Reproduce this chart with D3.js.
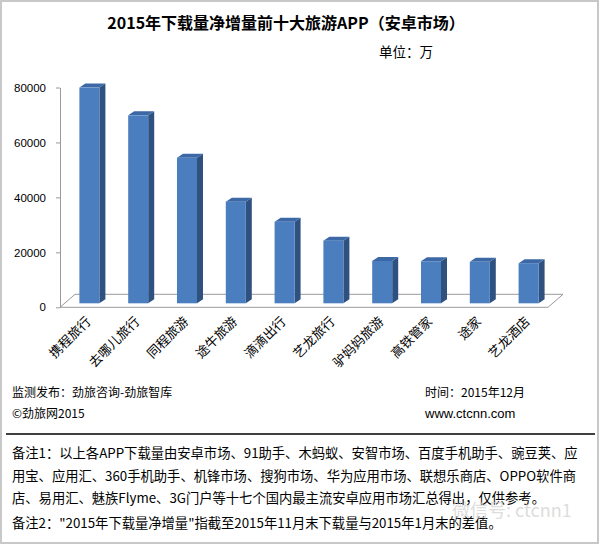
<!DOCTYPE html>
<html><head><meta charset="utf-8">
<script src="https://cdn.jsdelivr.net/npm/d3@7"></script>
<style>
html,body{margin:0;padding:0;background:#fff;}
svg{display:block;}
</style></head>
<body>
<svg id="c" width="600" height="545"></svg>
<script>
const title = "2015年下载量净增量前十大旅游APP（安卓市场）";
const unitLabel = "单位：万";
const categories = ["携程旅行","去哪儿旅行","同程旅游","途牛旅游","滴滴出行","艺龙旅行","驴妈妈旅游","高铁管家","途家","艺龙酒店"];
const values = [78500, 68400, 53000, 37000, 29700, 22800, 15400, 15300, 15100, 14600];
const yTicks = [0, 20000, 40000, 60000, 80000];
const footerLeft = ["监测发布：劲旅咨询-劲旅智库", "©劲旅网2015"];
const footerRight = ["时间：2015年12月", "www.ctcnn.com"];
const notes = [
  "备注1：以上各APP下载量由安卓市场、91助手、木蚂蚁、安智市场、百度手机助手、豌豆荚、应",
  "用宝、应用汇、360手机助手、机锋市场、搜狗市场、华为应用市场、联想乐商店、OPPO软件商",
  "店、易用汇、魅族Flyme、3G门户等十七个国内最主流安卓应用市场汇总得出，仅供参考。",
  "备注2：\"2015年下载量净增量\"指截至2015年11月末下载量与2015年1月末的差值。"
];
const watermark = "微信号: ctcnn1";

const CJK = "'Noto Sans CJK SC','Microsoft YaHei',sans-serif";
const NUM = "'Liberation Sans',Arial,sans-serif";

const svg = d3.select("#c");

// frame
svg.append("rect").attr("x",1).attr("y",1).attr("width",597).attr("height",542)
  .attr("fill","#fff").attr("stroke","#c8c8c8").attr("stroke-width",2);

// title
svg.append("text").attr("x",286).attr("y",29).attr("text-anchor","middle")
  .attr("font-family",CJK).attr("font-weight","bold").attr("font-size",16)
  .attr("fill","#000").text(title);
svg.append("text").attr("x",379).attr("y",57)
  .attr("font-family",CJK).attr("font-size",13.5).attr("fill","#000").text(unitLabel);

// scales
const x = d3.scaleBand().domain(categories).range([60,548]).padding(0);
const y = d3.scaleLinear().domain([0,80000]).range([307.3,87.5]);
const depth = {dx:15, dy:-13};
const barShift = {dx:5, dy:-4};
const side = {dx:6, dy:-4};
const bw = 20;

// floor
const x0 = x.range()[0], x1 = x.range()[1], y0 = y(0);
svg.append("polygon")
  .attr("points", [[x0,y0],[x1,y0],[x1+depth.dx,y0+depth.dy],[x0+depth.dx,y0+depth.dy]].map(p=>p.join(",")).join(" "))
  .attr("fill","#fff").attr("stroke","#9a9a9a").attr("stroke-width",1);

// y axis
const yAxis = d3.axisLeft(y).tickValues(yTicks).tickSize(4).tickSizeOuter(0).tickPadding(10)
  .tickFormat(d3.format("d"));
const ga = svg.append("g").attr("transform",`translate(${x0},0)`).call(yAxis);
ga.select(".domain").attr("stroke","#9a9a9a");
ga.selectAll(".tick line").attr("stroke","#9a9a9a");
ga.selectAll(".tick text").attr("font-family",NUM).attr("font-size",11.5).attr("fill","#000");

// bars
const gb = svg.append("g");
categories.forEach((c,i)=>{
  const v = values[i];
  const cx = x(c) + x.bandwidth()/2 + barShift.dx;
  const left = cx - bw/2, right = cx + bw/2;
  const top = y(v) + barShift.dy, bottom = y(0) + barShift.dy;
  gb.append("polygon")
    .attr("points",[[right,top],[right+side.dx,top+side.dy],[right+side.dx,bottom+side.dy],[right,bottom]].map(p=>p.join(",")).join(" "))
    .attr("fill","#2f5180");
  gb.append("polygon")
    .attr("points",[[left,top],[left+side.dx,top+side.dy],[right+side.dx,top+side.dy],[right,top]].map(p=>p.join(",")).join(" "))
    .attr("fill","#3c68a6");
  gb.append("rect").attr("x",left).attr("y",top).attr("width",bw).attr("height",bottom-top)
    .attr("fill","#4a7ebf");
});

// x labels
const gx = svg.append("g");
categories.forEach(c=>{
  const cx = x(c) + x.bandwidth()/2 + 4;
  gx.append("text").attr("transform",`translate(${cx},319) rotate(-45)`)
    .attr("text-anchor","end").attr("dy","0.35em")
    .attr("font-family",CJK).attr("font-size",13).attr("fill","#000").text(c);
});

// footers
footerLeft.forEach((t,i)=>{
  svg.append("text").attr("x",12).attr("y",397+i*21).attr("font-family",CJK)
    .attr("font-size",12).attr("fill","#000").text(t);
});
footerRight.forEach((t,i)=>{
  svg.append("text").attr("x",425).attr("y",397+i*21)
    .attr("font-family", i===0?CJK:NUM)
    .attr("font-size",i===0?12:13).attr("fill","#000").text(t);
});

// separator
svg.append("line").attr("x1",6).attr("x2",595).attr("y1",434).attr("y2",434)
  .attr("stroke","#000").attr("stroke-width",1.5);

// notes
const noteY = [458, 481, 503, 528];
notes.forEach((t,i)=>{
  svg.append("text").attr("x",12).attr("y",noteY[i]).attr("font-family",CJK)
    .attr("font-size",13.3).attr("fill","#000").text(t);
});

// watermark (faint, overlapping the notes as in the reference)
svg.append("text").attr("x",452).attr("y",517).attr("font-family",CJK)
  .attr("font-size",18).attr("fill","#cfcfcf").attr("opacity",0.7).text(watermark);
</script>
</body></html>
